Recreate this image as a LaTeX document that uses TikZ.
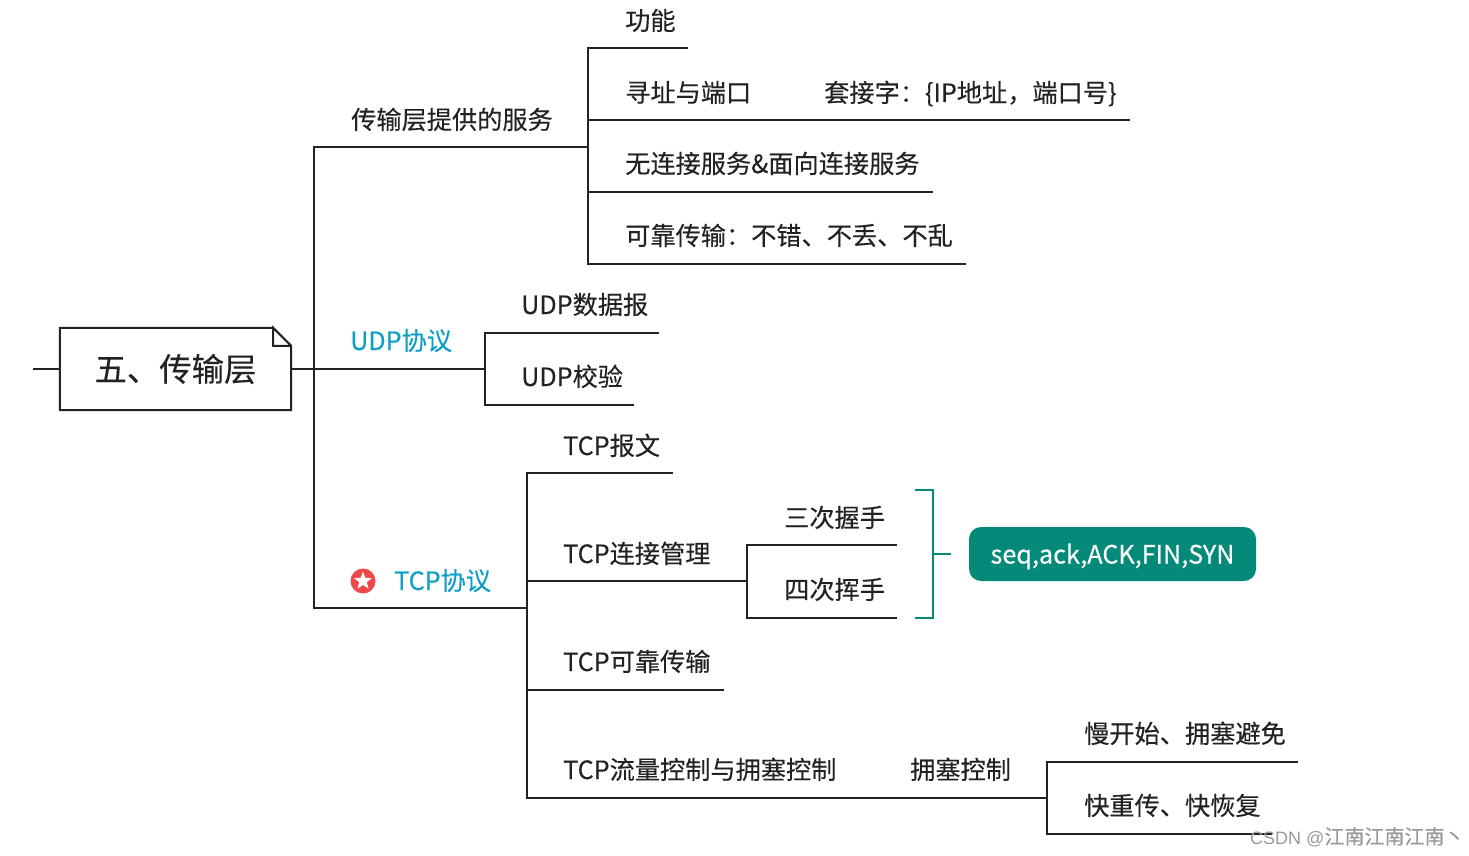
\documentclass[tikz,border=0pt]{standalone}
\usepackage{fontspec}
\setmainfont{Noto Sans CJK SC}[FakeBold=0.25]
\newfontfamily\markfont{Liberation Sans}
\usetikzlibrary{calc,positioning,shapes.geometric}
\definecolor{MapInk}{RGB}{34,34,34}
\definecolor{MapBlue}{RGB}{15,158,198}
\definecolor{MapTeal}{RGB}{5,138,122}
\definecolor{MapRed}{RGB}{240,72,72}
\begin{document}
\begin{tikzpicture}[x=1pt,y=-1pt,
  branch/.style={draw=MapInk,line width=2pt},
  bracket/.style={draw=MapTeal,line width=2pt},
  topic/.style={anchor=base west,inner sep=0pt,text=MapInk,font=\fontsize{25.2}{25}\selectfont},
  topicblue/.style={topic,text=MapBlue},
  rootbox/.style={minimum width=231pt,minimum height=82pt,inner sep=0pt,text=MapInk,font=\fontsize{32.4}{32}\selectfont},
  pill/.style={fill=MapTeal,rounded corners=12pt,minimum width=287pt,minimum height=54pt,inner sep=0pt,text height=19pt,text depth=0pt,text=white,font=\fontsize{25.2}{25}\selectfont}]
\useasboundingbox (0,0) rectangle (1469,856);
% root
\node[rootbox] (root) at (175.5,369) {五、传输层};
\coordinate (rootStub) at (33,369);
\draw[branch,line join=miter] (root.north east) ++(-18,0) coordinate (foldTop) -- (root.north west) -- (root.south west) -- (root.south east) -- ($(root.north east)+(0,18)$) coordinate (foldSide) -- (foldTop) -- ($(root.north east)+(-18,18)$) -- (foldSide);
\draw[branch] (rootStub) -- (root.west);
% trunk
\coordinate (trunkTop) at (314,147);
\coordinate (trunkBot) at (314,608);
\coordinate (serviceFork) at (588,147);
\coordinate (udpFork) at (485,369);
\coordinate (tcpFork) at (527,608);
\draw[branch] (serviceFork) -- (trunkTop) -- (trunkBot) -- (tcpFork);
\draw[branch] (root.east) -- (udpFork);
\node[topic] (service) at (351,129) {传输层提供的服务};
\node[topicblue] (udp) at (350,350) {UDP协议};
\node[topicblue] (tcp) at (394,590) {TCP协议};
\node[circle,fill=MapRed,minimum size=25pt,inner sep=0pt] (badge) at (363,581) {};
\node[star,star points=5,star point ratio=2.4,fill=white,minimum size=19pt,inner sep=0pt] (badgeStar) at (badge) {};
% service branch
\coordinate (serviceA) at (588,48);
\coordinate (serviceB) at (588,120);
\coordinate (serviceC) at (588,192);
\coordinate (serviceD) at (588,264);
\coordinate (serviceAend) at (688,48);
\coordinate (serviceBend) at (1130,120);
\coordinate (serviceCend) at (933,192);
\coordinate (serviceDend) at (966,264);
\draw[branch] (serviceAend) -- (serviceA) -- (serviceD) -- (serviceDend);
\draw[branch] (serviceB) -- (serviceBend);
\draw[branch] (serviceC) -- (serviceCend);
\node[topic] (func) at (625,30) {功能};
\node[topic] (addr) at (625,102) {寻址与端口};
\node[topic] (socket) at (824,102) {套接字：\{IP地址，端口号\}};
\node[topic] (conn) at (625,173) {无连接服务\&面向连接服务};
\node[topic] (reliable) at (625,245) {可靠传输：不错、不丢、不乱};
% udp branch
\coordinate (udpA) at (485,333);
\coordinate (udpB) at (485,405);
\coordinate (udpAend) at (659,333);
\coordinate (udpBend) at (634,405);
\draw[branch] (udpAend) -- (udpA) -- (udpB) -- (udpBend);
\node[topic] (udpData) at (521,314) {UDP数据报};
\node[topic] (udpCheck) at (521,386) {UDP校验};
% tcp branch
\coordinate (tcpA) at (527,473);
\coordinate (tcpB) at (527,581);
\coordinate (tcpC) at (527,690);
\coordinate (tcpD) at (527,798);
\coordinate (tcpAend) at (673,473);
\coordinate (shakeFork) at (747,581);
\coordinate (tcpCend) at (724,690);
\coordinate (congFork) at (1047,798);
\draw[branch] (tcpAend) -- (tcpA) -- (tcpD) -- (congFork);
\draw[branch] (tcpB) -- (shakeFork);
\draw[branch] (tcpC) -- (tcpCend);
\node[topic] (tcpSeg) at (563,455) {TCP报文};
\node[topic] (tcpConn) at (563,563) {TCP连接管理};
\node[topic] (tcpRel) at (563,671) {TCP可靠传输};
\node[topic] (tcpFlow) at (563,779) {TCP流量控制与拥塞控制};
\node[topic] (cong) at (910,779) {拥塞控制};
% handshakes
\coordinate (shakeA) at (747,545);
\coordinate (shakeB) at (747,618);
\coordinate (shakeAend) at (897,545);
\coordinate (shakeBend) at (897,618);
\draw[branch] (shakeAend) -- (shakeA) -- (shakeB) -- (shakeBend);
\node[topic] (three) at (784,527) {三次握手};
\node[topic] (four) at (784,599) {四次挥手};
% summary
\node[pill] (fields) at (1112.5,554) {seq,ack,ACK,FIN,SYN};
\coordinate (brA) at (915,490);
\coordinate (brB) at (933,490);
\coordinate (brC) at (933,618);
\coordinate (brD) at (915,618);
\coordinate (brMid) at (933,554);
\coordinate (brTip) at (951,554);
\draw[bracket] (brA) -- (brB) -- (brC) -- (brD);
\draw[bracket] (brMid) -- (brTip);
% congestion
\coordinate (congA) at (1047,762);
\coordinate (congB) at (1047,834);
\coordinate (congAend) at (1298,762);
\coordinate (congBend) at (1272,834);
\draw[branch] (congAend) -- (congA) -- (congB) -- (congBend);
\node[topic] (slow) at (1084,743) {慢开始、拥塞避免};
\node[topic] (fast) at (1084,815) {快重传、快恢复};
% watermark
\node[anchor=base west,inner sep=0pt,text=black!40,font=\fontsize{20}{20}\selectfont] (mark) at (1250,844) {{\markfont\fontsize{18}{18}\selectfont CSDN @}江南江南江南丶};
\end{tikzpicture}
\end{document}
